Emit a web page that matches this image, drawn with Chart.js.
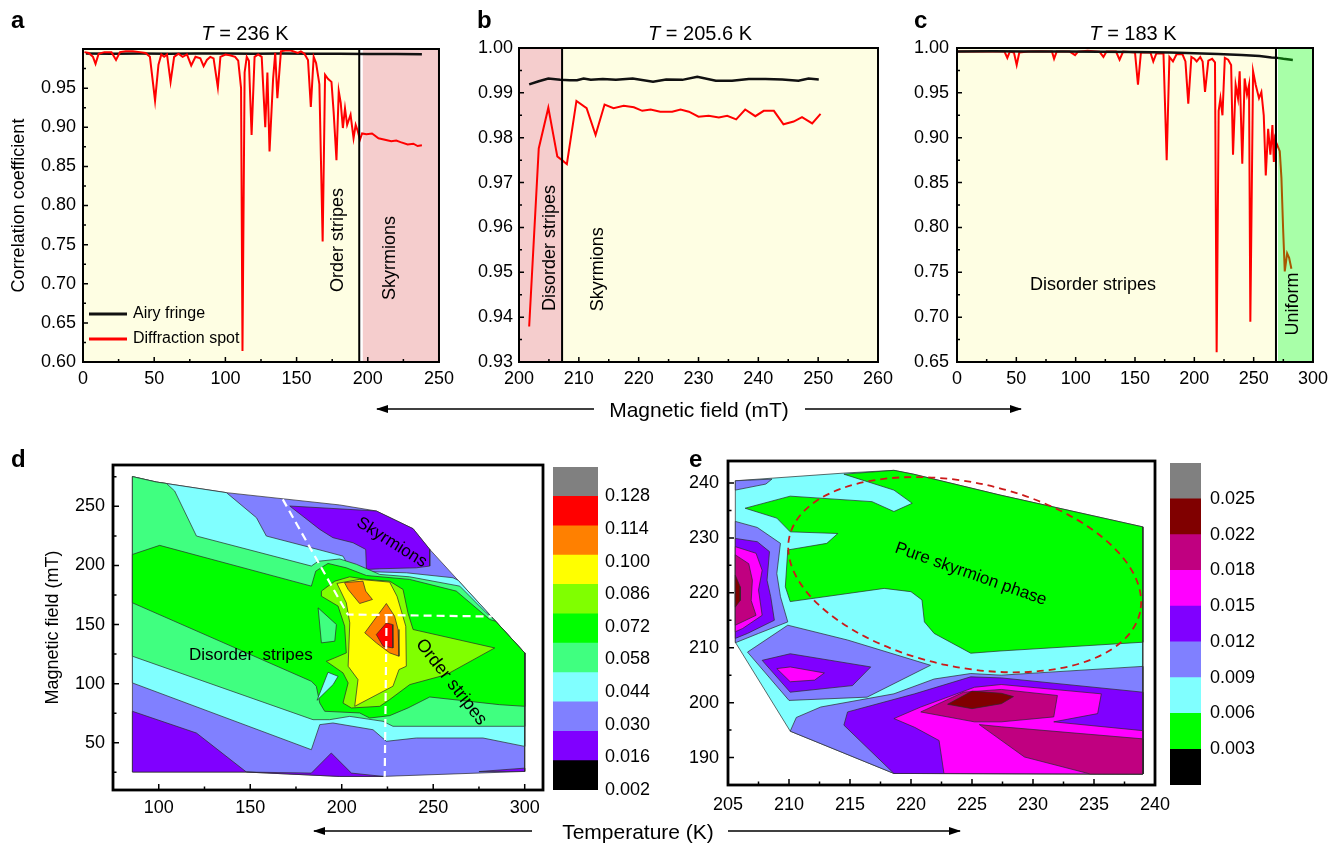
<!DOCTYPE html>
<html>
<head>
<meta charset="utf-8">
<title>Correlation coefficients and contour maps</title>
<script src="https://cdn.jsdelivr.net/npm/chart.js@4.4.1/dist/chart.umd.min.js"></script>
<style>
  body { margin: 0; background: #fff; font-family: 'Liberation Sans', Arial, Helvetica, sans-serif; }
  #page { position: relative; width: 1341px; height: 843px; overflow: hidden; }
  .box { position: absolute; }
  .box canvas { display: block; }
  .lbl { position: absolute; font-weight: bold; font-size: 24px; line-height: 1; }
  .ttl { position: absolute; font-size: 20px; line-height: 1; transform: translateX(-50%); white-space: nowrap; }
  .axl { position: absolute; font-size: 21px; line-height: 1; transform: translate(-50%, -50%); white-space: nowrap; }
</style>
<script>
// ---- panel a : T = 236 K ----
var aRedX = [1, 4, 7, 8.8, 11, 15, 20, 23.2, 26, 30, 35, 40, 44, 47, 50.6, 53, 55, 57, 59, 61.5, 64, 67, 70, 73, 76, 79, 82.4, 84.7, 87, 89.4,
  91.7, 94.7, 96.5, 100, 103, 106.8, 109, 111, 112, 113.5, 115, 116.5, 118.4, 120.5, 123, 125.5, 128, 129.5, 131, 133.5,
  135, 136.5, 139, 142, 146, 150.9, 153, 155.5, 158, 160, 162, 163.7, 166, 168.3, 170, 172, 174.5, 176, 178, 179.6,
  181, 182.5, 184, 185.5, 187.9, 190, 191.5, 193, 194.5, 196, 199, 203, 207.5, 212, 216.5, 220, 223, 228, 232, 235, 238];
var aRedY = [0.996, 0.995, 0.99, 0.981, 0.994, 0.996, 0.996, 0.986, 0.996, 0.997, 0.997, 0.996, 0.995, 0.99, 0.934, 0.98, 0.993, 0.99, 0.993, 0.958,
  0.99, 0.994, 0.99, 0.993, 0.979, 0.99, 0.988, 0.978, 0.986, 0.99, 0.988, 0.951, 0.99, 0.993, 0.992, 0.99, 0.985, 0.95, 0.614, 0.97,
  0.99, 0.985, 0.89, 0.99, 0.993, 0.99, 0.90, 0.97, 0.869, 0.962, 0.995, 0.937, 0.997, 0.998, 0.998, 0.995, 0.997, 0.994, 0.986, 0.926,
  0.99, 0.982, 0.955, 0.754, 0.967, 0.962, 0.958, 0.92, 0.858, 0.946, 0.931, 0.899, 0.924, 0.903, 0.916, 0.886, 0.903, 0.895, 0.884, 0.892,
  0.891, 0.892, 0.886, 0.884, 0.882, 0.883, 0.881, 0.878, 0.879, 0.876, 0.877];
var aBlackX = [2, 20, 40, 60, 80, 100, 120, 140, 160, 180, 200, 220, 238];
var aBlackY = [0.9942, 0.994, 0.9944, 0.994, 0.9941, 0.9942, 0.994, 0.9941, 0.9938, 0.994, 0.9936, 0.9935, 0.9933];
var aPhase = [0, 194, 196.5, 250];       // stripes end / skyrmions start
var aXTicks = [0, 50, 100, 150, 200, 250];
var aYTicks = [0.60, 0.65, 0.70, 0.75, 0.80, 0.85, 0.90, 0.95];

// ---- panel b : T = 205.6 K ----
var bRedX = [201.7, 203.3, 204.9, 206.4, 207.2, 208, 209.6, 211.3, 212.8, 214.3, 215.8, 217.5, 219.2, 220.6, 222, 223.6, 225.6,
  227, 228.4, 230, 231.7, 233.4, 234.8, 236.3, 237.8, 239.5, 240.9, 242.6, 244.2, 245.9, 247.3, 249, 250.4];
var bRedY = [0.9379, 0.9776, 0.9867, 0.9758, 0.9750, 0.9741, 0.9882, 0.9866, 0.9806, 0.9874, 0.9866, 0.9871, 0.9868, 0.9860, 0.9863, 0.9858, 0.9858,
  0.9863, 0.9858, 0.9847, 0.9849, 0.9845, 0.9849, 0.9841, 0.9863, 0.9848, 0.9860, 0.9860, 0.9830, 0.9836, 0.9846, 0.9832, 0.9853];
var bBlackX = [201.7, 203.3, 204.9, 206.9, 208.5, 209.7, 210.8, 212, 214, 216.2, 219, 222.4, 224.6, 227.3, 229.8, 232.9, 235.6, 238.4,
  241.2, 244, 246.7, 248.4, 250.1];
var bBlackY = [0.9919, 0.9926, 0.9932, 0.9929, 0.9928, 0.9928, 0.9932, 0.9929, 0.9931, 0.9929, 0.9932, 0.9925, 0.9930, 0.9929, 0.9936, 0.9927,
  0.9927, 0.9931, 0.9931, 0.9930, 0.9927, 0.9932, 0.9930];
var bPhase = [200, 207.2, 260];
var bXTicks = [200, 210, 220, 230, 240, 250, 260];
var bYTicks = [0.93, 0.94, 0.95, 0.96, 0.97, 0.98, 0.99, 1.00];

// ---- panel c : T = 183 K ----
var cRedX = [0, 10, 20, 30, 40, 42.4, 44.5, 48, 50.3, 52.5, 60, 70, 80, 81.8, 84, 95, 99.5, 102, 110, 120, 123.4, 126, 134, 137, 140,
  150, 152.5, 155, 163, 165.4, 168, 174, 176.7, 179, 182, 185, 190, 192.5, 194.9, 197.5, 200, 202, 205, 207, 209, 211.8, 215, 217.4,
  218.8, 220.5, 222, 223.7, 225.7, 228.5, 231, 232.6, 234.8, 236.8, 238.2, 240.4, 242.4, 244.4, 246.1, 247.2, 249.5, 251.7, 254.5,
  256.5, 258.5, 260.2, 262.2, 264.1, 265.8, 267, 268, 269.2, 272, 273.4, 274.8, 276.2, 278.2, 279.9, 281.8];
var cRedY = [0.996, 0.996, 0.9965, 0.996, 0.996, 0.989, 0.996, 0.995, 0.981, 0.995, 0.996, 0.9965, 0.996, 0.988, 0.996, 0.996, 0.992, 0.996,
  0.997, 0.996, 0.99, 0.996, 0.996, 0.987, 0.996, 0.995, 0.959, 0.995, 0.995, 0.985, 0.994, 0.994, 0.875, 0.99, 0.985, 0.993, 0.993, 0.985,
  0.938, 0.99, 0.988, 0.985, 0.99, 0.985, 0.951, 0.986, 0.988, 0.984, 0.661, 0.93, 0.944, 0.925, 0.989, 0.987, 0.981, 0.881, 0.959, 0.944,
  0.974, 0.871, 0.966, 0.948, 0.959, 0.695, 0.974, 0.959, 0.944, 0.951, 0.925, 0.858, 0.91, 0.881, 0.914, 0.873, 0.899, 0.894, 0.885,
  0.855, 0.799, 0.751, 0.771, 0.766, 0.754];
var cBlackX = [0, 30, 60, 90, 120, 150, 180, 200, 220, 240, 255, 265, 270, 275, 280, 283];
var cBlackY = [0.9962, 0.9963, 0.996, 0.996, 0.9958, 0.9955, 0.995, 0.9942, 0.9932, 0.9922, 0.991, 0.9895, 0.989, 0.988, 0.9872, 0.9867];
var cPhase = [0, 268.8, 270.5, 300];
var cXTicks = [0, 50, 100, 150, 200, 250, 300];
var cYTicks = [0.65, 0.70, 0.75, 0.80, 0.85, 0.90, 0.95, 1.00];

// ---- panel d : contour of temperature vs field (each list = region at or above a level) ----
var dHull = [[85.6,275.2],[98.7,270.6],[137.0,261.6],[198.9,251.2],[218.9,246.1],[239.0,231.1],[248.1,213.6],[300,126.0],[300,25.7],
  [222.6,21.5],[198.9,21.5],[147.9,25.2],[85.6,25.2]];
var dViolet = [
  [[85.6,76.6],[120.6,58.2],[147.9,25.2],[85.6,25.2]],
  [[147.9,25.2],[183.4,24.3],[194.3,41.3],[205.3,24.3],[222.6,21.5],[198.9,21.5]],
  [[275,25.6],[300,28.5],[300,25.7]],
  [[171.6,250.3],[218.9,246.1],[239.0,231.1],[248.1,213.6],[248.1,199.5],[240.8,198.0],[220.8,197.2],[213.5,196.6],[213.1,213.6],
   [206.2,219.2],[195.2,223.5],[188.0,230.5]]
];
var dCyan = [[85.6,275.2],[98.7,270.6],[137.0,261.6],[153.4,240.4],[158.8,224.9],[183.4,215.0],[200.7,207.9],[205.3,195.2],[235.3,193.8],
  [260.8,189.6],[263.6,187.5],[300,126.0],[300,46.9],[277.2,54.0],[240.8,54.0],[224.4,51.2],[217.1,61.0],[195.2,66.7],[188.0,65.3],
  [183.4,44.1],[85.6,100.6]];
var dMint = [[85.6,275.2],[98.7,270.6],[104.2,269.4],[108.7,263.0],[120.6,224.9],[183.4,199.5],[187.1,203.5],[198.9,205.5],[208.0,201.0],
  [220.8,192.4],[237.1,190.4],[264.5,182.5],[279.0,159.9],[282.7,155.1],[300,126.0],[300,63.9],[228.0,63.9],[222.6,68.1],[204.4,72.3],
  [193.4,69.5],[184.3,69.5],[85.6,123.2]];
var dGreen = [[85.6,209.3],[100.5,217.0],[183.4,182.5],[185.8,195.2],[192.5,201.7],[202.5,198.0],[213.5,191.5],[237.1,188.2],[262.6,178.3],
  [280.9,154.3],[284.1,152.8],[300,126.0],[300,80.8],[286.3,82.2],[248.1,88.7],[236.2,79.4],[226.2,72.9],[215.3,70.9],[209.8,75.2],
  [190.7,76.6],[188.0,83.6],[186.1,97.8],[183.4,102.0],[85.6,168.4]];
var dMintIsland = [[187.1,164.1],[197.1,150.0],[196.2,135.9],[188.9,134.5]];
var dCyanIsland = [[186.5,85.9],[192.5,109.6],[198.0,106.2],[195.3,99.2]];
var dYellowGreen = [[188.9,178.3],[196.2,186.7],[204.4,190.4],[213.5,188.2],[226.2,186.7],[233.5,179.7],[236.2,159.9],[239.0,145.8],
  [283.6,130.2],[257.2,107.6],[237.2,99.2],[226.2,86.5],[220.8,80.8],[205.3,79.4],[200.7,83.6],[203.5,100.6],[200.7,109.1],[191.6,118.9],
  [196.2,121.8],[202.5,126.0],[201.6,148.6],[198.0,165.6],[188.9,174.0]];
var dYellow = [[197.4,184.8],[209.8,188.2],[226.2,185.9],[230.2,174.0],[235.0,148.6],[235.3,114.7],[231.3,111.9],[228.0,97.8],[207.1,80.8],
  [208.9,103.4],[203.5,114.7],[204.4,151.4],[202.5,168.4]];
var dOrange = [
  [[201.5,185.5],[211.6,186.7],[213.1,178.3],[216.8,171.2],[209.8,167.8],[203.5,179.7]],
  [[212.6,143.0],[224.4,167.8],[228.9,157.1],[230.8,145.8],[231.3,123.2],[226.2,126.0],[218.9,134.5]]
];
var dRed = [[218.9,141.5],[224.4,151.4],[227.7,150.0],[228.0,130.2],[222.6,131.7]];
var dGuideDiag = [[167.8,255.9],[203.3,158.5],[282,156.8]];
var dGuideVert = [[224.5,158.0],[223.5,21.2]];
var dXTicks = [100, 150, 200, 250, 300];
var dYTicks = [50, 100, 150, 200, 250];
var dBarColors = ['#000000', '#8000ff', '#8080ff', '#80ffff', '#40ff80', '#00ff00', '#80ff00', '#ffff00', '#ff8000', '#ff0000', '#808080'];
var dBarLabels = ['0.002', '0.016', '0.030', '0.044', '0.058', '0.072', '0.086', '0.100', '0.114', '0.128'];

// ---- panel e : contour near 205-240 K ----
var eHull = [[205.6,240.4],[214.5,241.8],[218.6,242.3],[220.2,241.6],[227.3,237.8],[239.0,232.0],[239.0,187.0],[218.6,187.1],[210.1,194.8],[205.6,211.0]];
var eGreen = [[214.5,241.6],[218.6,242.3],[220.2,241.6],[227.3,237.8],[239.0,232.0],[239.0,211.0],[227.3,209.4],[224.9,209.0],[221.9,212.6],
  [221.1,214.7],[220.9,218.7],[220.0,220.2],[217.8,220.8],[210.1,218.4],[209.7,221.1],[209.9,227.8],[213.1,229.0],[214.0,230.8],[210.1,231.1],
  [209.0,233.6],[206.4,235.4],[210.1,237.6],[216.8,236.6],[218.6,234.8],[220.1,236.3],[218.6,238.7]];
var eSlate = [
  [[205.6,240.4],[208.6,240.7],[208.1,239.8],[205.6,238.7]],
  [[205.6,233.0],[207.4,231.9],[209.3,229.0],[209.0,223.5],[209.3,219.3],[209.9,214.7],[207.5,212.6],[205.6,210.9]],
  [[206.6,209.2],[209.9,214.1],[214.8,211.4],[221.6,206.8],[216.4,201.0],[210.0,200.4]],
  [[210.1,194.8],[210.6,197.3],[212.6,199.2],[218.6,201.6],[221.9,204.3],[224.9,205.3],[227.4,205.0],[239.0,206.6],[239.0,187.0],[218.6,187.1]]
];
var eViolet = [
  [[205.6,229.9],[207.4,229.3],[208.4,227.5],[208.2,222.3],[208.5,219.3],[208.8,215.0],[206.6,212.6],[205.6,211.7]],
  [[207.8,207.7],[210.1,208.9],[216.7,206.5],[215.2,203.1],[210.1,201.9]],
  [[214.5,195.9],[214.8,198.3],[220.3,201.6],[224.9,204.7],[227.4,204.5],[239.0,201.9],[239.0,187.0],[218.6,187.1]]
];
var eMagenta = [
  [[205.6,228.4],[207.3,227.2],[207.8,224.1],[207.5,220.5],[207.8,215.9],[206.2,213.5],[205.6,212.9]],
  [[209.0,206.2],[210.1,206.5],[212.9,205.4],[212.1,204.1],[210.1,203.8]],
  [[218.6,197.1],[220.8,199.2],[225.2,202.8],[227.4,203.3],[235.6,201.6],[235.3,198.0],[231.7,196.5],[239.0,194.9],[239.0,187.0],
   [222.7,187.1],[222.3,193.1],[220.3,195.5]]
];
var eMaroon = [
  [[205.6,226.9],[206.7,225.3],[207.0,222.3],[206.9,218.6],[207.3,215.9],[205.6,214.1]],
  [[220.8,198.3],[224.3,201.9],[227.4,202.4],[232.0,201.3],[231.7,197.4],[227.4,196.5],[225.2,196.5]],
  [[225.6,196.0],[227.4,195.6],[239.0,193.4],[239.0,187.0],[234.7,187.0],[229.3,190.1]]
];
var eDarkRed = [
  [[205.6,223.2],[206.0,221.1],[206.0,218.6],[205.6,217.4]],
  [[223.0,199.7],[225.0,202.1],[227.4,201.7],[228.4,201.1],[227.4,199.8],[225.0,198.9]]
];
var eXTicks = [205, 210, 215, 220, 225, 230, 235, 240];
var eYTicks = [190, 200, 210, 220, 230, 240];
var eBarColors = ['#000000', '#00ff00', '#80ffff', '#8080ff', '#8000ff', '#ff00ff', '#c00080', '#800000', '#808080'];
var eBarLabels = ['0.003', '0.006', '0.009', '0.012', '0.015', '0.018', '0.022', '0.025'];
</script>
</head>
<body>
<div id="page">
  <div class="box" style="left:0px;top:0px"><canvas id="ca" width="460" height="395"></canvas></div>
  <div class="box" style="left:470px;top:0px"><canvas id="cb" width="430" height="395"></canvas></div>
  <div class="box" style="left:905px;top:0px"><canvas id="cc" width="436" height="395"></canvas></div>
  <div class="box" style="left:0px;top:440px"><canvas id="cd" width="550" height="400"></canvas></div>
  <div class="box" style="left:553px;top:440px"><canvas id="cdbar" width="125" height="380"></canvas></div>
  <div class="box" style="left:665px;top:440px"><canvas id="ce" width="520" height="400"></canvas></div>
  <div class="box" style="left:1170px;top:440px"><canvas id="cebar" width="110" height="380"></canvas></div>

  <div class="lbl" style="left:11px;top:8px">a</div>
  <div class="lbl" style="left:477px;top:8px">b</div>
  <div class="lbl" style="left:914px;top:8px">c</div>
  <div class="lbl" style="left:11px;top:447px">d</div>
  <div class="lbl" style="left:689px;top:447px">e</div>
  <div class="ttl" style="left:245px;top:23px"><i>T</i> = 236 K</div>
  <div class="ttl" style="left:700px;top:23px"><i>T</i> = 205.6 K</div>
  <div class="ttl" style="left:1133px;top:23px"><i>T</i> = 183 K</div>
  <div class="axl" style="left:699px;top:409px">Magnetic field (mT)</div>
  <div class="axl" style="left:638px;top:831px">Temperature (K)</div>
  <svg width="1341" height="843" style="position:absolute;left:0;top:0;pointer-events:none">
    <defs>
      <marker id="ah" markerWidth="12" markerHeight="8" refX="11" refY="4" orient="auto" markerUnits="userSpaceOnUse">
        <path d="M0,0 L12,4 L0,8 z" fill="#000"/>
      </marker>
    </defs>
    <g stroke="#000" stroke-width="1.4">
      <line x1="594" y1="409" x2="377" y2="409" marker-end="url(#ah)"/>
      <line x1="805" y1="409" x2="1021" y2="409" marker-end="url(#ah)"/>
      <line x1="532" y1="831" x2="314" y2="831" marker-end="url(#ah)"/>
      <line x1="728" y1="831" x2="960" y2="831" marker-end="url(#ah)"/>
    </g>
  </svg>
</div>

<script>
var FONT = "'Liberation Sans', Arial, Helvetica, sans-serif";
Chart.defaults.font.family = FONT;
Chart.defaults.font.size = 18;
Chart.defaults.color = '#000';
Chart.defaults.animation = false;

var YELLOW = '#fefee3', PINK = '#f5cdcd', GREEN_OVER = 'rgba(0,255,0,0.34)';

function pts(xs, ys) {
  return xs.map(function (x, i) { return { x: x, y: ys[i] }; });
}
function closed(p) {
  var d = p.map(function (q) { return { x: q[0], y: q[1] }; });
  d.push(d[0]);
  return d;
}

// annotations, phase bands and frames, keyed by canvas id
var NOTES = {
  ca: {
    bands: [{ from: aPhase[0], to: aPhase[1], color: YELLOW }, { from: aPhase[2], to: aPhase[3], color: PINK }],
    vlines: [aPhase[1]],
    texts: [{ x: 179, y: 0.756, text: 'Order stripes', rot: -90, size: 18 },
            { x: 215.9, y: 0.733, text: 'Skyrmions', rot: -90, size: 18 }],
    legend: [{ text: 'Airy fringe', color: '#111' }, { text: 'Diffraction spot', color: '#ff0000' }]
  },
  cb: {
    bands: [{ from: bPhase[0], to: bPhase[1], color: PINK }, { from: bPhase[1], to: bPhase[2], color: YELLOW }],
    vlines: [bPhase[1]],
    texts: [{ x: 205.2, y: 0.9554, text: 'Disorder stripes', rot: -90, size: 18 },
            { x: 213.2, y: 0.9507, text: 'Skyrmions', rot: -90, size: 18 }]
  },
  cc: {
    bands: [{ from: cPhase[0], to: cPhase[1], color: YELLOW }],
    over: [{ from: cPhase[2], to: cPhase[3], color: GREEN_OVER }],
    vlines: [cPhase[1]],
    texts: [{ x: 114.6, y: 0.7358, text: 'Disorder stripes', rot: 0, size: 18 },
            { x: 283.1, y: 0.7147, text: 'Uniform', rot: -90, size: 18 }]
  },
  cd: {
    texts: [{ x: 227.3, y: 219.5, text: 'Skyrmions', rot: 32, size: 17 },
            { x: 150.3, y: 123.7, text: 'Disorder  stripes', rot: 0, size: 17 },
            { x: 259.8, y: 101.3, text: 'Order stripes', rot: 52, size: 18 }]
  },
  ce: {
    texts: [{ x: 224.9, y: 223.4, text: 'Pure skyrmion phase', rot: 19.5, size: 17 }],
    ellipse: { cx: 224.4, cy: 223.3, rx: 14.7, ry: 16.8, rot: 12 }
  }
};
var FRAMES = {
  ca: { width: 2, major: 5, minor: 3 },
  cb: { width: 2, major: 5, minor: 3 },
  cc: { width: 2, major: 5, minor: 3 },
  cd: { width: 2.8, major: 6, minor: 3.5 },
  ce: { width: 2.8, major: 6, minor: 3.5 }
};

var notesPlugin = {
  id: 'notes',
  beforeDatasetsDraw: function (chart) {
    var n = NOTES[chart.canvas.id];
    if (!n || !n.bands) return;
    var ctx = chart.ctx, ca = chart.chartArea, x = chart.scales.x;
    ctx.save();
    n.bands.forEach(function (b) {
      var x0 = x.getPixelForValue(b.from), x1 = x.getPixelForValue(b.to);
      ctx.fillStyle = b.color;
      ctx.fillRect(x0, ca.top, x1 - x0, ca.bottom - ca.top);
    });
    ctx.restore();
  },
  afterDatasetsDraw: function (chart) {
    var n = NOTES[chart.canvas.id];
    if (!n) return;
    var ctx = chart.ctx, ca = chart.chartArea, x = chart.scales.x, y = chart.scales.y;
    ctx.save();
    (n.over || []).forEach(function (b) {
      var x0 = x.getPixelForValue(b.from), x1 = x.getPixelForValue(b.to);
      ctx.fillStyle = b.color;
      ctx.fillRect(x0, ca.top, x1 - x0, ca.bottom - ca.top);
    });
    (n.vlines || []).forEach(function (v) {
      var p = x.getPixelForValue(v);
      ctx.strokeStyle = '#000';
      ctx.lineWidth = 2;
      ctx.beginPath();
      ctx.moveTo(p, ca.top);
      ctx.lineTo(p, ca.bottom);
      ctx.stroke();
    });
    if (n.ellipse) {
      var e = n.ellipse;
      var cx = x.getPixelForValue(e.cx), cy = y.getPixelForValue(e.cy);
      var rx = Math.abs(x.getPixelForValue(e.cx + e.rx) - cx);
      var ry = Math.abs(y.getPixelForValue(e.cy + e.ry) - cy);
      ctx.setLineDash([7, 5]);
      ctx.strokeStyle = '#cc1a1a';
      ctx.lineWidth = 1.8;
      ctx.beginPath();
      ctx.ellipse(cx, cy, rx, ry, e.rot * Math.PI / 180, 0, 2 * Math.PI);
      ctx.stroke();
      ctx.setLineDash([]);
    }
    (n.texts || []).forEach(function (t) {
      ctx.save();
      ctx.translate(x.getPixelForValue(t.x), y.getPixelForValue(t.y));
      ctx.rotate(t.rot * Math.PI / 180);
      ctx.font = t.size + 'px ' + FONT;
      ctx.fillStyle = '#000';
      ctx.textAlign = 'center';
      ctx.textBaseline = 'middle';
      ctx.fillText(t.text, 0, 0);
      ctx.restore();
    });
    if (n.legend) {
      n.legend.forEach(function (l, i) {
        var yy = ca.bottom - 48 + i * 25;
        ctx.strokeStyle = l.color;
        ctx.lineWidth = 3;
        ctx.beginPath();
        ctx.moveTo(ca.left + 6, yy);
        ctx.lineTo(ca.left + 44, yy);
        ctx.stroke();
        ctx.font = '16px ' + FONT;
        ctx.fillStyle = '#000';
        ctx.textAlign = 'left';
        ctx.textBaseline = 'middle';
        ctx.fillText(l.text, ca.left + 50, yy);
      });
    }
    ctx.restore();
  }
};

function minorValues(ticks, min, max) {
  var v = ticks.map(function (t) { return t.value; });
  var step = v[1] - v[0], out = [];
  for (var k = -40; k < 200; k++) {
    var m = v[0] + (k + 0.5) * step;
    if (m > min + 1e-9 && m < max - 1e-9) out.push(m);
  }
  return out;
}

var framePlugin = {
  id: 'frame',
  afterDatasetsDraw: function (chart) {
    var f = FRAMES[chart.canvas.id];
    if (!f) return;
    var ctx = chart.ctx, ca = chart.chartArea, x = chart.scales.x, y = chart.scales.y;
    ctx.save();
    ctx.strokeStyle = '#000';
    ctx.lineWidth = 1.5;
    ctx.beginPath();
    x.ticks.forEach(function (t) {
      var p = x.getPixelForValue(t.value);
      ctx.moveTo(p, ca.bottom); ctx.lineTo(p, ca.bottom - f.major);
    });
    minorValues(x.ticks, x.min, x.max).forEach(function (v) {
      var p = x.getPixelForValue(v);
      ctx.moveTo(p, ca.bottom); ctx.lineTo(p, ca.bottom - f.minor);
    });
    y.ticks.forEach(function (t) {
      var p = y.getPixelForValue(t.value);
      ctx.moveTo(ca.left, p); ctx.lineTo(ca.left + f.major, p);
    });
    minorValues(y.ticks, y.min, y.max).forEach(function (v) {
      var p = y.getPixelForValue(v);
      ctx.moveTo(ca.left, p); ctx.lineTo(ca.left + f.minor, p);
    });
    ctx.stroke();
    ctx.lineWidth = f.width;
    ctx.strokeRect(ca.left, ca.top, ca.right - ca.left, ca.bottom - ca.top);
    ctx.restore();
  }
};

function axis(a, dir) {
  return {
    type: 'linear',
    min: a.min,
    max: a.max,
    grid: { display: false, drawTicks: false },
    border: { display: false },
    title: a.title ? { display: true, text: a.title, font: { size: 18 }, padding: { top: 4, bottom: 0 } } : { display: false },
    ticks: { autoSkip: false, maxRotation: 0, padding: a.pad, callback: function (v) { return a.fmt(v); } },
    afterBuildTicks: function (s) { s.ticks = a.ticks.map(function (v) { return { value: v }; }); },
    afterFit: function (s) { if (dir === 'x') s.height = a.size; else s.width = a.size; }
  };
}

function plotChart(id, datasets, pad, ax, ay) {
  return new Chart(document.getElementById(id), {
    type: 'line',
    data: { datasets: datasets },
    options: {
      responsive: false,
      animation: false,
      layout: { padding: pad },
      elements: { point: { radius: 0 }, line: { tension: 0 } },
      plugins: { legend: { display: false }, tooltip: { enabled: false } },
      scales: { x: axis(ax, 'x'), y: axis(ay, 'y') }
    },
    plugins: [notesPlugin, framePlugin]
  });
}

function lineSet(xs, ys, color, width, order) {
  return { data: pts(xs, ys), borderColor: color, borderWidth: width, fill: false, pointRadius: 0, order: order };
}

function contourSets(layers) {
  var sets = [], all = [];
  layers.forEach(function (l) {
    l.polys.forEach(function (p) { all.push({ p: p, c: l.color }); });
  });
  all.forEach(function (o, i) {
    sets.push({ data: closed(o.p), backgroundColor: o.c, borderColor: '#2a2a2a', borderWidth: 0.7,
                fill: 'shape', pointRadius: 0, order: all.length - i });
  });
  return sets;
}

var f2 = function (v) { return v.toFixed(2); };
var f0 = function (v) { return String(Math.round(v)); };

// panel a
plotChart('ca',
  [lineSet(aBlackX, aBlackY, '#111', 2.5, 2), lineSet(aRedX, aRedY, '#ff0000', 2, 1)],
  { left: 4, top: 49, right: 18, bottom: 3 },
  { min: 0, max: 250, ticks: aXTicks, fmt: f0, size: 30, pad: 6 },
  { min: 0.6, max: 1.0, ticks: aYTicks, fmt: f2, size: 79, pad: 7, title: 'Correlation coefficient' });

// panel b
plotChart('cb',
  [lineSet(bBlackX, bBlackY, '#111', 2.5, 2), lineSet(bRedX, bRedY, '#ff0000', 2, 1)],
  { left: 4, top: 48, right: 22, bottom: 3 },
  { min: 200, max: 260, ticks: bXTicks, fmt: f0, size: 30, pad: 6 },
  { min: 0.93, max: 1.0, ticks: bYTicks, fmt: f2, size: 45, pad: 6 });

// panel c
plotChart('cc',
  [lineSet(cBlackX, cBlackY, '#111', 2.5, 1), lineSet(cRedX, cRedY, '#ff0000', 2, 2)],
  { left: 4, top: 48, right: 28, bottom: 3 },
  { min: 0, max: 300, ticks: cXTicks, fmt: f0, size: 30, pad: 6 },
  { min: 0.65, max: 1.0, ticks: cYTicks, fmt: f2, size: 48, pad: 8 });

// panel d
var dSets = contourSets([
  { polys: [dHull], color: '#8080ff' },
  { polys: dViolet, color: '#8000ff' },
  { polys: [dCyan], color: '#80ffff' },
  { polys: [dMint], color: '#40ff80' },
  { polys: [dGreen], color: '#00ff00' },
  { polys: [dMintIsland], color: '#40ff80' },
  { polys: [dCyanIsland], color: '#80ffff' },
  { polys: [dYellowGreen], color: '#80ff00' },
  { polys: [dYellow], color: '#ffff00' },
  { polys: dOrange, color: '#ff8000' },
  { polys: [dRed], color: '#ff0000' }
]);
[dGuideDiag, dGuideVert].forEach(function (g) {
  dSets.push({ data: g.map(function (q) { return { x: q[0], y: q[1] }; }), borderColor: '#ffffff', borderWidth: 2.2,
               borderDash: [8, 5], fill: false, pointRadius: 0, order: -5 });
});
plotChart('cd', dSets,
  { left: 38, top: 25, right: 7, bottom: 22 },
  { min: 75, max: 310, ticks: dXTicks, fmt: f0, size: 28, pad: 7 },
  { min: 10, max: 285, ticks: dYTicks, fmt: f0, size: 75, pad: 8, title: 'Magnetic field (mT)' });

// panel e
plotChart('ce', contourSets([
  { polys: [eHull], color: '#80ffff' },
  { polys: [eGreen], color: '#00ff00' },
  { polys: eSlate, color: '#8080ff' },
  { polys: eViolet, color: '#8000ff' },
  { polys: eMagenta, color: '#ff00ff' },
  { polys: eMaroon, color: '#c00080' },
  { polys: eDarkRed, color: '#800000' }
]),
  { left: 0, top: 21, right: 30, bottom: 25 },
  { min: 205, max: 240, ticks: eXTicks, fmt: f0, size: 30, pad: 9 },
  { min: 185, max: 244, ticks: eYTicks, fmt: f0, size: 63, pad: 9 });

// colour scales
function colorBar(id, colors, labels, positions, pad, width, tickPad) {
  return new Chart(document.getElementById(id), {
    type: 'bar',
    data: {
      labels: [''],
      datasets: colors.map(function (c) {
        return { data: [1], backgroundColor: c, borderWidth: 0, barPercentage: 1, categoryPercentage: 1 };
      })
    },
    options: {
      responsive: false,
      animation: false,
      layout: { padding: pad },
      plugins: { legend: { display: false }, tooltip: { enabled: false } },
      scales: {
        x: { display: false, stacked: true },
        y: {
          stacked: true, position: 'right', min: 0, max: colors.length,
          grid: { display: false, drawTicks: false }, border: { display: false },
          ticks: { autoSkip: false, padding: tickPad, callback: function (v, i) { return labels[i]; } },
          afterBuildTicks: function (s) { s.ticks = positions.map(function (v) { return { value: v }; }); },
          afterFit: function (s) { s.width = width; }
        }
      }
    }
  });
}
var dBarPos = dBarLabels.map(function (l, i) { return i * (dBarColors.length - 1) / (dBarLabels.length - 1); });
var eBarPos = eBarLabels.map(function (l, i) { return i + 1; });
colorBar('cdbar', dBarColors, dBarLabels, dBarPos, { left: 0, top: 27, right: 0, bottom: 30 }, 80, 7);
colorBar('cebar', eBarColors, eBarLabels, eBarPos, { left: 0, top: 23, right: 0, bottom: 35 }, 79, 9);
</script>
</body>
</html>
